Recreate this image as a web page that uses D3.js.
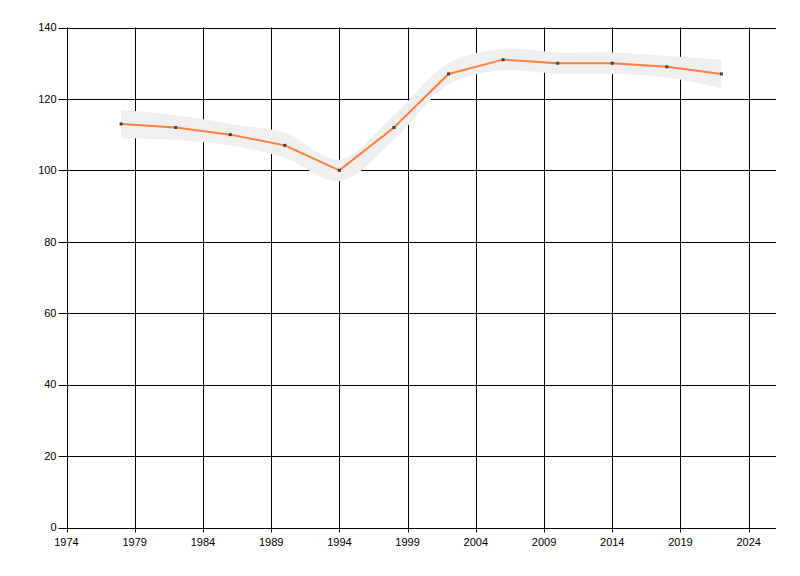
<!DOCTYPE html>
<html><head><meta charset="utf-8">
<script src="https://cdn.jsdelivr.net/npm/d3@7"></script>
<style>body{margin:0;background:#fff}svg text{font-family:"Liberation Sans",Arial,sans-serif;font-size:11px;fill:#000}</style>
</head><body>
<svg id="c" width="800" height="576"></svg>
<script>
const years = [1978,1982,1986,1990,1994,1998,2002,2006,2010,2014,2018,2022];
const values = [113,112,110,107,100,112,127,131,130,130,129,127];
const upper = [117,115.5,113,110.5,103,115.5,130,134,133,133,132,131];
const lower = [109,108.5,107,103.5,97,108.5,124,128,127,127,126,123];
const xTicks = [1974,1979,1984,1989,1994,1999,2004,2009,2014,2019,2024];
const yTicks = [0,20,40,60,80,100,120,140];

const svg = d3.select("#c");
const m = {l:66.5, r:776, t:27.5, b:527.5};
const x = d3.scaleLinear().domain([1974,2026]).range([m.l, m.r]);
const y = d3.scaleLinear().domain([0,140]).range([m.b, m.t]);

const g = svg.append("g");
// grid
g.selectAll(".hg").data(yTicks).join("line")
  .attr("x1", m.l-8).attr("x2", m.r).attr("y1", d=>Math.round(y(d))+0.5).attr("y2", d=>Math.round(y(d))+0.5)
  .attr("stroke","#000").attr("stroke-width",1);
g.selectAll(".vg").data(xTicks).join("line")
  .attr("x1", d=>Math.round(x(d))+0.5).attr("x2", d=>Math.round(x(d))+0.5)
  .attr("y1", m.t).attr("y2", m.b+5)
  .attr("stroke","#000").attr("stroke-width",1);
// labels
g.selectAll(".yl").data(yTicks).join("text")
  .attr("x", m.l-10).attr("y", d=>y(d)).attr("dy","0.35em").attr("text-anchor","end").text(d=>d);
g.selectAll(".xl").data(xTicks).join("text")
  .attr("x", d=>x(d)).attr("y", m.b+18).attr("text-anchor","middle").text(d=>d);

const data = years.map((yr,i)=>({yr, v:values[i], u:upper[i], lo:lower[i]}));
// band
svg.append("path").datum(data)
  .attr("d", d3.area().x(d=>x(d.yr)).y0(d=>y(d.lo)).y1(d=>y(d.u)).curve(d3.curveCatmullRom.alpha(0.5)))
  .attr("fill","#efefef");
// line
svg.append("path").datum(data)
  .attr("d", d3.line().x(d=>x(d.yr)).y(d=>y(d.v)))
  .attr("fill","none").attr("stroke","#ff7f3f").attr("stroke-width",2);
// points
svg.selectAll(".pt").data(data).join("rect")
  .attr("x", d=>x(d.yr)-1.5).attr("y", d=>y(d.v)-1.5).attr("width",3).attr("height",3)
  .attr("fill","#404040");
</script>
</body></html>
